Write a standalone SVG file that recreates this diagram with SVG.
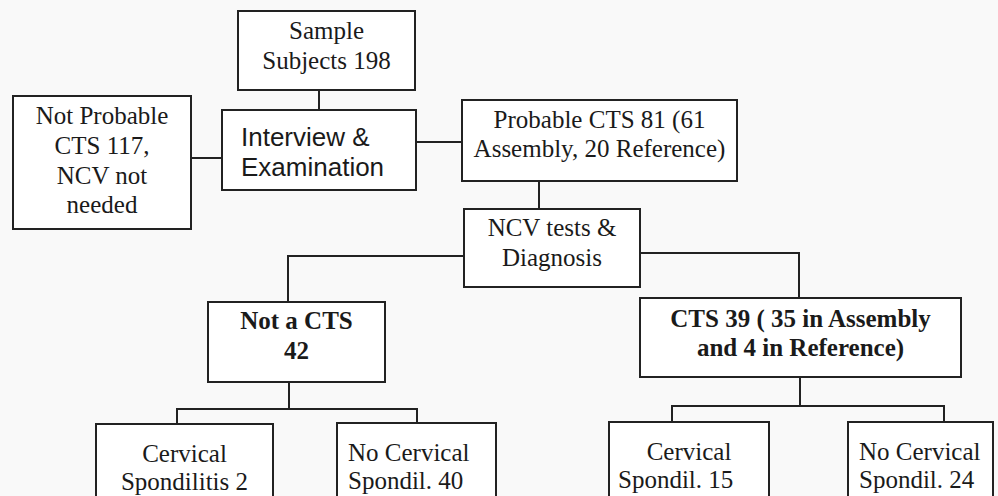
<svg xmlns="http://www.w3.org/2000/svg" width="998" height="496" viewBox="0 0 998 496">
<style>
.box{fill:#ffffff;stroke:#222;stroke-width:2}
.t{font-family:"Liberation Serif","Times New Roman",serif;font-size:25px;fill:#1a1a1a}
.c{text-anchor:middle}
.b{font-weight:bold}
.s{font-family:"Liberation Sans",Arial,sans-serif;font-size:26px;fill:#1a1a1a}
.conn path{fill:none;stroke:#222;stroke-width:2}
</style>
<rect x="0" y="0" width="998" height="496" fill="#f9f9f9"/>
<g class="conn">
<path d="M319 90 V110"/>
<path d="M191 158 H222"/>
<path d="M416 142 H462"/>
<path d="M539 181 V209"/>
<path d="M464 256 H288 V302"/>
<path d="M640 253 H799 V298"/>
<path d="M289 382 V409 M177 424 V409 H417 V423"/>
<path d="M800 377 V406 M672 422 V406 H944 V422"/>
</g>
<g id="sample">
<rect class="box" x="238" y="11" width="177" height="79"/>
<text class="t c" x="326.5" y="39">Sample</text>
<text class="t c" x="326.5" y="69">Subjects 198</text>
</g>
<g id="notprobable">
<rect class="box" x="13" y="96" width="178" height="133"/>
<text class="t c" x="102" y="124">Not Probable</text>
<text class="t c" x="102" y="154">CTS 117,</text>
<text class="t c" x="102" y="184">NCV not</text>
<text class="t c" x="102" y="213">needed</text>
</g>
<g id="interview">
<rect class="box" x="222" y="110" width="194" height="80"/>
<text class="s" x="241" y="146">Interview &amp;</text>
<text class="s" x="241" y="176">Examination</text>
</g>
<g id="probable">
<rect class="box" x="462" y="100" width="275" height="81"/>
<text class="t c" x="599.5" y="128">Probable CTS 81 (61</text>
<text class="t c" x="599.5" y="157">Assembly, 20 Reference)</text>
</g>
<g id="ncv">
<rect class="box" x="464" y="209" width="176" height="78"/>
<text class="t c" x="552" y="236">NCV tests &amp;</text>
<text class="t c" x="552" y="266">Diagnosis</text>
</g>
<g id="notcts">
<rect class="box" x="208" y="302" width="177" height="80"/>
<text class="t c b" x="296.5" y="329">Not a CTS</text>
<text class="t c b" x="296.5" y="359">42</text>
</g>
<g id="cts">
<rect class="box" x="640" y="298" width="321" height="79"/>
<text class="t c b" x="800.5" y="327">CTS 39 ( 35 in Assembly</text>
<text class="t c b" x="800.5" y="356">and 4 in Reference)</text>
</g>
<g id="cervspond2">
<rect class="box" x="96" y="424" width="177" height="80"/>
<text class="t c" x="184.5" y="462">Cervical</text>
<text class="t c" x="184.5" y="490">Spondilitis 2</text>
</g>
<g id="nocerv40">
<rect class="box" x="337" y="423" width="159" height="80"/>
<text class="t" x="348" y="461">No Cervical</text>
<text class="t" x="348" y="489">Spondil. 40</text>
</g>
<g id="cerv15">
<rect class="box" x="609" y="422" width="160" height="80"/>
<text class="t c" x="689" y="460">Cervical</text>
<text class="t" x="618" y="488">Spondil. 15</text>
</g>
<g id="nocerv24">
<rect class="box" x="848" y="422" width="145" height="80"/>
<text class="t" x="859" y="460">No Cervical</text>
<text class="t" x="859" y="488">Spondil. 24</text>
</g>
</svg>
